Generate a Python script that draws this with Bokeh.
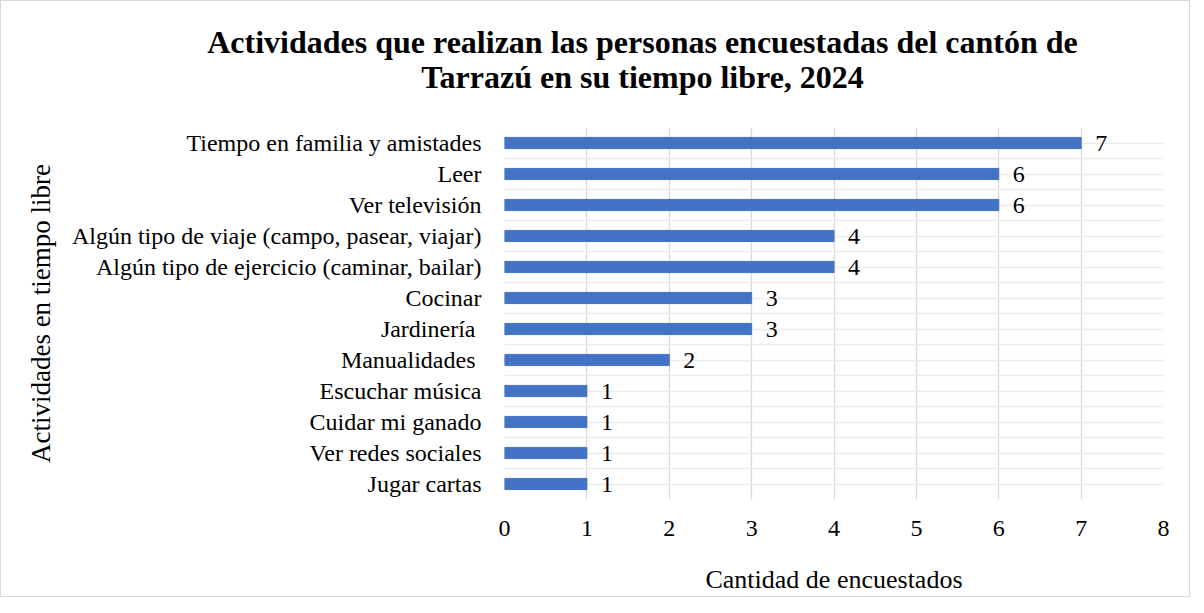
from bokeh.plotting import figure
from bokeh.models import FixedTicker, ColumnDataSource, LabelSet
from bokeh.layouts import column, row
from bokeh.core.properties import value
from bokeh.embed import file_html
from bokeh.resources import INLINE

categories = [
    "Tiempo en familia y amistades",
    "Leer",
    "Ver televisión",
    "Algún tipo de viaje (campo, pasear, viajar)",
    "Algún tipo de ejercicio (caminar, bailar)",
    "Cocinar",
    "Jardinería ",
    "Manualidades ",
    "Escuchar música",
    "Cuidar mi ganado",
    "Ver redes sociales",
    "Jugar cartas",
]
values = [7, 6, 6, 4, 4, 3, 3, 2, 1, 1, 1, 1]
x_ticks = [0, 1, 2, 3, 4, 5, 6, 7, 8]
title_lines = [
    "Actividades que realizan las personas encuestadas del cantón de",
    "Tarrazú en su tiempo libre, 2024",
]
x_title = "Cantidad de encuestados"
y_title = "Actividades en tiempo libre"

FONT = "Liberation Serif"
W = 1188
TH = 110
MH = 485

# ---- title strip ----
t = figure(width=W, height=TH, output_backend="svg", toolbar_location=None,
           x_range=(0, W), y_range=(0, TH), min_border=0,
           x_axis_location=None, y_axis_location=None)
t.grid.visible = False
t.outline_line_color = None
tsrc = ColumnDataSource(dict(x=[641, 641], y=[TH - 40, TH - 75], txt=title_lines))
t.text(x="x", y="y", text="txt", source=tsrc, text_align="center", text_baseline="middle",
       text_font=value(FONT), text_font_size="32px", text_font_style="bold", text_color="#000000")

# ---- main chart ----
n = len(categories)
ypos = [n - 1 - i for i in range(n)]
src = ColumnDataSource(dict(y=ypos, v=values, lbl=[str(v) for v in values]))

p = figure(width=W, height=MH, output_backend="svg", toolbar_location=None,
           x_range=(0, 8), y_range=(-0.5, n - 0.5),
           min_border_left=503, min_border_top=16, min_border_right=26, min_border_bottom=96)
p.outline_line_color = None

p.hbar(y="y", right="v", left=0, height=0.36, color="#4472C4", source=src)

labels = LabelSet(x="v", y="y", text="lbl", source=src, x_offset=14, text_baseline="middle",
                  text_align="left", text_font=FONT, text_font_size="24px", text_color="#000000")
p.add_layout(labels)

p.xaxis.ticker = FixedTicker(ticks=x_ticks)
p.yaxis.ticker = FixedTicker(ticks=ypos, minor_ticks=[k - 0.5 for k in range(n + 1)])
p.yaxis.major_label_overrides = {y: c for y, c in zip(ypos, categories)}
for ax in (p.xaxis[0], p.yaxis[0]):
    ax.axis_line_color = None
    ax.major_tick_line_color = None
    ax.minor_tick_line_color = None
    ax.major_label_text_font = FONT
    ax.major_label_text_font_size = "24px"
    ax.major_label_text_color = "#000000"
    ax.axis_label_text_font = FONT
    ax.axis_label_text_font_size = "26px"
    ax.axis_label_text_font_style = "normal"
    ax.axis_label_text_color = "#000000"
p.yaxis.axis_label_text_font_size = "27px"
p.xaxis.major_label_standoff = 15
p.yaxis.major_label_standoff = 17
p.xaxis.axis_label = x_title
p.yaxis.axis_label = y_title
p.xaxis.axis_label_standoff = 26
p.yaxis.axis_label_standoff = 13

p.xgrid.grid_line_color = "#d9d9d9"
p.xgrid.grid_line_width = 1.3
p.ygrid.grid_line_color = "#ececec"
p.ygrid.minor_grid_line_color = "#ececec"
p.ygrid.grid_line_width = 1.3
p.ygrid.minor_grid_line_width = 1.3

layout = column(row(t), p, spacing=0)
layout.styles = {"border": "1px solid #d9d9d9", "background-color": "white"}

open("out.html", "w").write(file_html(layout, INLINE))
